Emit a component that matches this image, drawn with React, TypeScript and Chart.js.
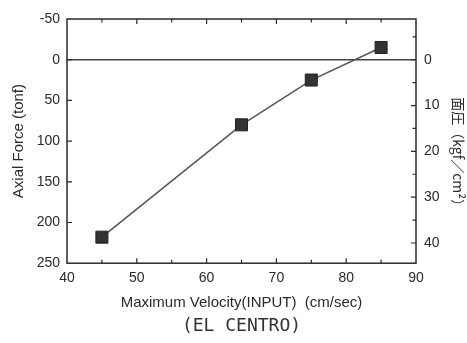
import React, { useEffect, useRef } from "react";
import { Chart, registerables } from "chart.js";

Chart.register(...registerables);

// Data
const velocities = [45, 65, 75, 85];
const axialForces = [218, 80, 25, -15];
const xTickValues = [40, 50, 60, 70, 80, 90];
const xMinorTickValues = [45, 50, 55, 60, 65, 70, 75, 80, 85];
const leftTickValues = [-50, 0, 50, 100, 150, 200, 250];
const leftInnerTickValues = [0, 50, 100, 150, 200];
const rightTickValues = [0, 10, 20, 30, 40];
const rightInnerTickValues = [-5, 0, 5, 10, 15, 20, 25, 30, 35, 40];
const tonfPerKgfCm2 = 5.63; // conversion between axes
const leftMin = -50;
const leftMax = 250;

const INK = "#2a2a2a";

const framePlugin = {
  id: "frameTicks",
  afterDatasetsDraw(chart: any) {
    const { ctx, chartArea: a, scales } = chart;
    const x = scales.x;
    const yL = scales.y;
    const yR = scales.y2;
    ctx.save();
    ctx.strokeStyle = INK;
    ctx.lineWidth = 1.5;
    ctx.strokeRect(a.left, a.top, a.right - a.left, a.bottom - a.top);
    ctx.lineWidth = 1.2;
    ctx.beginPath();
    xMinorTickValues.forEach((v) => {
      const px = x.getPixelForValue(v);
      const len = v % 10 === 0 ? 5 : 3.5;
      ctx.moveTo(px, a.bottom);
      ctx.lineTo(px, a.bottom - len);
      ctx.moveTo(px, a.top);
      ctx.lineTo(px, a.top + len);
    });
    leftInnerTickValues.forEach((v) => {
      const py = yL.getPixelForValue(v);
      ctx.moveTo(a.left, py);
      ctx.lineTo(a.left + 5, py);
    });
    rightInnerTickValues.forEach((v) => {
      const py = yR.getPixelForValue(v);
      const len = v % 10 === 0 ? 5 : 3.5;
      ctx.moveTo(a.right, py);
      ctx.lineTo(a.right - len, py);
    });
    ctx.stroke();
    ctx.restore();
  },
};

export default function App() {
  const ref = useRef<HTMLCanvasElement | null>(null);
  useEffect(() => {
    if (!ref.current) return;
    const tickFont = { family: "'Liberation Sans', Arial, sans-serif", size: 14 };
    const chart = new Chart(ref.current, {
      type: "line",
      data: {
        datasets: [
          {
            data: velocities.map((v, i) => ({ x: v, y: axialForces[i] })),
            borderColor: "#555",
            borderWidth: 1.5,
            backgroundColor: "#333",
            pointBackgroundColor: "#333",
            pointBorderColor: "#222",
            pointBorderWidth: 1,
            pointStyle: "rect",
            pointRadius: 8.5,
            yAxisID: "y",
          },
        ],
      },
      options: {
        animation: false,
        responsive: false,
        devicePixelRatio: 1,
        layout: { padding: { top: 19, left: 0, right: 0, bottom: 0 } },
        plugins: {
          legend: { display: false },
          tooltip: { enabled: false },
          title: {
            display: true,
            position: "bottom",
            fullSize: false,
            text: "(EL CENTRO)",
            color: "#333",
            font: { family: "'DejaVu Sans Mono', monospace", size: 18, weight: "normal" },
            padding: { top: 4, bottom: 6 },
          },
        },
        scales: {
          x: {
            type: "linear",
            position: "bottom",
            min: 40,
            max: 90,
            afterBuildTicks: (s: any) => {
              s.ticks = xTickValues.map((v) => ({ value: v }));
            },
            afterFit: (s: any) => {
              s.height = 48.2;
            },
            grid: { display: false, drawTicks: false },
            border: { display: false },
            ticks: { color: INK, font: tickFont, padding: 7, maxRotation: 0 },
            title: {
              display: true,
              text: "Maximum Velocity(INPUT)  (cm/sec)",
              color: INK,
              font: { family: "'Liberation Sans', Arial, sans-serif", size: 15 },
              padding: { top: 0, bottom: 0 },
            },
          },
          y: {
            type: "linear",
            position: "left",
            reverse: true,
            min: leftMin,
            max: leftMax,
            afterBuildTicks: (s: any) => {
              s.ticks = leftTickValues.map((v) => ({ value: v }));
            },
            afterFit: (s: any) => {
              s.width = 67;
            },
            grid: {
              drawTicks: false,
              lineWidth: 1.5,
              color: (c: any) => (c.tick && c.tick.value === 0 ? "#444" : "rgba(0,0,0,0)"),
            },
            border: { display: false },
            ticks: { color: INK, font: tickFont, padding: 7 },
            title: {
              display: true,
              text: "Axial Force (tonf)",
              color: INK,
              font: { family: "'Liberation Sans', Arial, sans-serif", size: 15 },
              padding: { top: 9.5, bottom: 0 },
            },
          },
          y2: {
            type: "linear",
            position: "right",
            reverse: true,
            min: leftMin / tonfPerKgfCm2,
            max: leftMax / tonfPerKgfCm2,
            afterBuildTicks: (s: any) => {
              s.ticks = rightTickValues.map((v) => ({ value: v }));
            },
            afterFit: (s: any) => {
              s.width = 51;
            },
            grid: { display: false, drawTicks: false },
            border: { display: false },
            ticks: { color: INK, font: tickFont, padding: 8 },
            title: {
              display: true,
              text: "\u3000\u3000面圧（kgf／cm²）",
              color: INK,
              font: { family: "'Noto Sans CJK JP', sans-serif", size: 14 },
              padding: { top: 0, bottom: 0.6 },
            },
          },
        },
      },
      plugins: [framePlugin],
    } as any);
    return () => chart.destroy();
  }, []);
  return (
    <div style={{ position: "absolute", left: 0, top: 0, width: 467, height: 343, background: "#fff" }}>
      <canvas ref={ref} width={467} height={343} style={{ width: 467, height: 343 }} />
    </div>
  );
}
